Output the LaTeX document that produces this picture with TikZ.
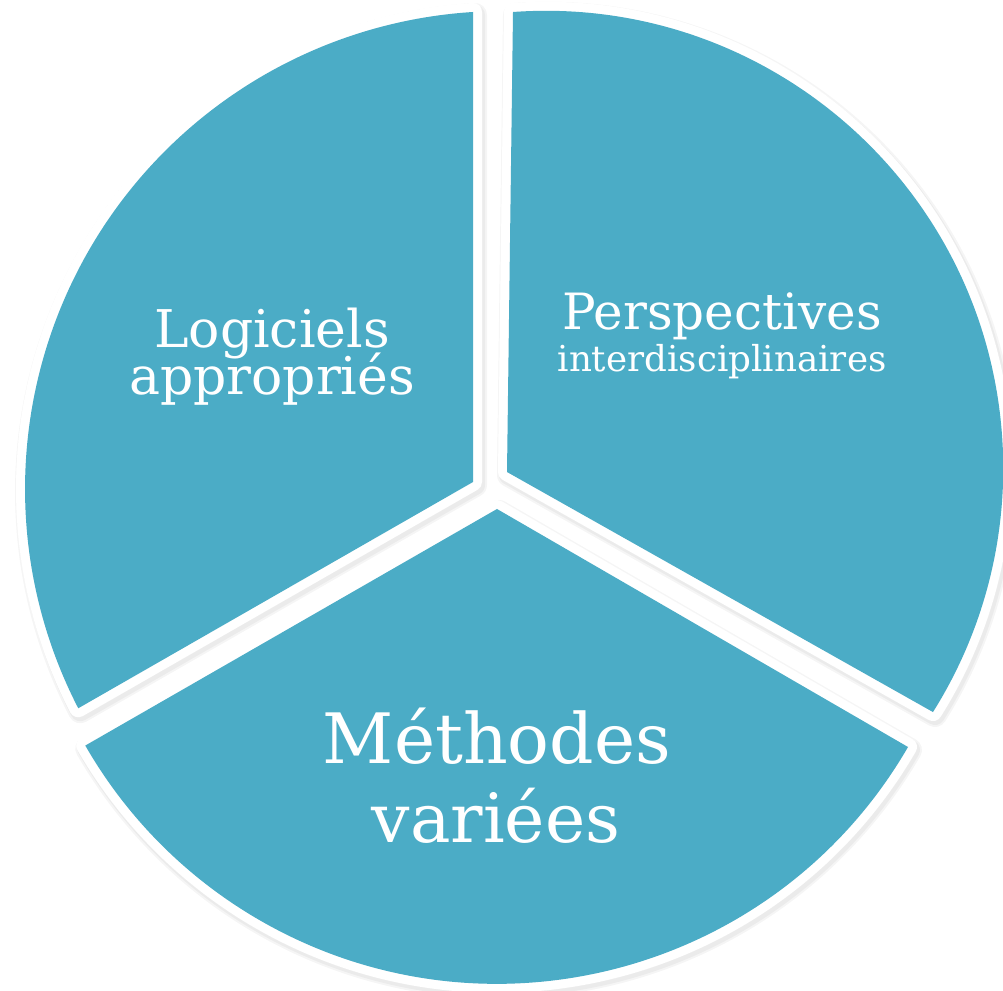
\documentclass[tikz,border=0pt]{standalone}
\usepackage{fontspec}
\setmainfont{DejaVu Serif}
\definecolor{segblue}{RGB}{75,172,198}
\tikzset{
  segfill/.style={fill=segblue, draw=none},
  segborder/.style={draw=white, line width=18pt, line join=round},
  segshadow/.style={draw=black, draw opacity=0.04, fill=black, fill opacity=0.04, line width=#1, line join=round},
  lbl/.style={text=white, inner sep=0pt, anchor=base}
}
\begin{document}
\begin{tikzpicture}[x=1pt,y=1pt]
\useasboundingbox (0,0) rectangle (1003,990);
\clip (0,0) rectangle (1003,990);
% segment outlines
\def\segTL{(473,508) -- (473,978) arc[start angle=93.6, end angle=207.3, radius=478] -- cycle}
\def\segTR{(507,518) -- (513,978) arc[start angle=94.09, end angle=-32.17, radius=457.6] -- cycle}
\def\segB{(497,481) -- (908,243) arc[start angle=-30.1, end angle=-150.1, radius=475] -- cycle}
% shadows
\begin{scope}[shift={(2,-3)}]
  \path[segshadow=24pt] \segTL;
  \path[segshadow=24pt] \segTR;
  \path[segshadow=24pt] \segB;
  \path[segshadow=20pt] \segTL;
  \path[segshadow=20pt] \segTR;
  \path[segshadow=20pt] \segB;
\end{scope}
% white borders
\path[segborder] \segTL;
\path[segborder] \segTR;
\path[segborder] \segB;
% blue fills
\path[segfill] \segTL;
\path[segfill] \segTR;
\path[segfill] \segB;
% labels
\node[lbl, font=\fontsize{52}{52}\selectfont] (tla) at (272,642) {Logiciels};
\node[lbl, font=\fontsize{52}{52}\selectfont] (tlb) at (272,595) {appropriés};
\node[lbl, font=\fontsize{50}{50}\selectfont] (tra) at (722,660) {Perspectives};
\node[lbl, font=\fontsize{35.7}{35.7}\selectfont] (trb) at (722,618) {interdisciplinaires};
\node[lbl, font=\fontsize{69.5}{69.5}\selectfont] (ba) at (497,226) {Méthodes};
\node[lbl, font=\fontsize{68}{68}\selectfont] (bb) at (496,147) {variées};
\end{tikzpicture}
\end{document}
